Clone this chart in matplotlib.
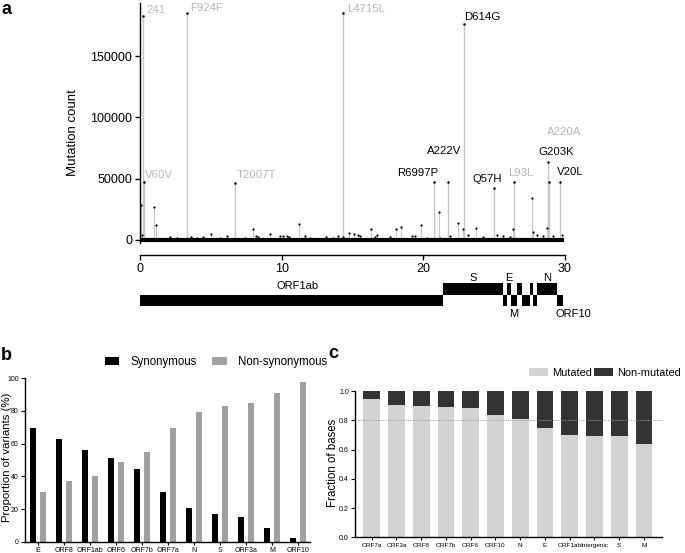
import matplotlib
matplotlib.use('Agg')
import matplotlib.pyplot as plt
import numpy as np

plt.rcParams['font.family'] = ['Liberation Sans', 'DejaVu Sans']

# ---------------- data: panel a ----------------
peak_pos_kb = [0.24, 0.28, 3.32, 6.70, 14.35, 20.75, 21.72, 22.85, 24.99, 26.40, 28.80, 28.87, 29.67]
peak_counts = [183000, 47500, 185500, 46700, 185500, 47500, 47000, 176000, 42000, 47500, 63400, 47000, 47000]
peak_labels = ['241', 'V60V', 'F924F', 'T2007T', 'L4715L', 'R6997P', 'A222V', 'D614G',
               'Q57H', 'L93L', 'G203K', 'A220A', 'V20L']
peak_is_silent = [True, True, True, True, True, False, False, False, False, True, False, True, False]

minor_pos_kb = [0.05, 0.12, 0.99, 1.10, 2.10, 2.60, 3.58, 4.00, 4.42, 5.00, 5.65, 6.12, 7.40,
                8.00, 8.19, 8.35, 9.18, 9.88, 10.10, 10.35, 10.50, 11.25, 11.65, 12.00, 13.10,
                13.65, 14.00, 14.30, 14.75, 15.10, 15.40, 15.53, 16.30, 16.60, 16.70, 17.65,
                18.07, 18.40, 19.18, 19.40, 19.80, 20.24, 21.10, 21.18, 21.90, 22.47, 22.82,
                23.17, 23.70, 24.23, 25.18, 25.60, 26.10, 26.33, 27.70, 27.72, 28.00, 28.47,
                28.75, 29.17, 29.77]
minor_counts = [28500, 4000, 27000, 12200, 2200, 1900, 2200, 1900, 2200, 4600, 1900, 3300, 1600,
                9000, 3300, 2700, 4600, 3500, 3300, 3300, 2700, 12800, 3300, 1900, 2200,
                1600, 3300, 2700, 5500, 4600, 4000, 3500, 9000, 2700, 4000, 2200,
                9000, 10800, 3500, 3300, 12200, 1900, 22600, 1900, 3300, 13600, 8700,
                4000, 10000, 2700, 4000, 3300, 2700, 8700, 34000, 6300, 4000, 3300,
                10000, 3500, 4000]
genome_start_kb = 0.0
genome_end_kb = 29.9
a_yticks = [0, 50000, 100000, 150000]
a_xticks = [0, 10, 20, 30]

gene_names = ['ORF1ab', 'S', 'ORF3a', 'E', 'M', 'ORF6', 'ORF7a', 'ORF7b', 'ORF8', 'N', 'ORF10']
gene_start = [0.0, 21.40, 25.60, 25.88, 26.17, 26.64, 26.94, 27.53, 27.76, 28.04, 29.41]
gene_end = [21.40, 25.60, 25.88, 26.17, 26.64, 26.94, 27.53, 27.76, 28.04, 29.41, 29.88]
gene_row = ['lower', 'upper', 'lower', 'upper', 'lower', 'upper', 'lower', 'upper', 'lower', 'upper', 'lower']
gene_shown_labels = ['ORF1ab', 'S', 'E', 'N', 'M', 'ORF10']

# ---------------- data: panel b ----------------
b_genes = ['E', 'ORF8', 'ORF1ab', 'ORF6', 'ORF7b', 'ORF7a', 'N', 'S', 'ORF3a', 'M', 'ORF10']
b_synonymous = [69.4, 62.8, 56.1, 51.0, 44.7, 30.4, 20.4, 16.8, 15.1, 8.6, 2.3]
b_nonsynonymous = [30.4, 36.9, 40.2, 48.8, 55.1, 69.4, 79.4, 83.0, 84.7, 91.2, 97.6]
b_yticks = [0, 20, 40, 60, 80, 100]

# ---------------- data: panel c ----------------
c_regions = ['ORF7a', 'ORF3a', 'ORF8', 'ORF7b', 'ORF6', 'ORF10', 'N', 'E', 'ORF1ab',
             'Intergenic', 'S', 'M']
c_mutated = [0.943, 0.902, 0.895, 0.893, 0.886, 0.839, 0.807, 0.750, 0.700, 0.693, 0.693, 0.641]
c_nonmutated = [1 - v for v in c_mutated]
c_threshold = 0.8
c_yticks = [0.0, 0.2, 0.4, 0.6, 0.8, 1.0]

W, H = 685, 553
fig = plt.figure(figsize=(W / 100, H / 100), dpi=100)


def rect(l, t, r, b):
    return [l / W, 1 - b / H, (r - l) / W, (b - t) / H]


STEM = '#c6c6c6'
SILENT = '#b8b8b8'

# ================= panel a =================
ax = fig.add_axes(rect(140, 3.4, 565, 243))
ax.set_xlim(0, 30)
ax.set_ylim(-2500, 193000)
ax.hlines(0, genome_start_kb, genome_end_kb, color='black', lw=3.0, zorder=2)
ax.vlines(minor_pos_kb, 0, minor_counts, color=STEM, lw=0.8, zorder=1)
ax.plot(minor_pos_kb, minor_counts, 'o', ms=1.6, color='black', zorder=3, mec='none')
ax.vlines(peak_pos_kb, 0, peak_counts, color=STEM, lw=1.0, zorder=1)
ax.plot(peak_pos_kb, peak_counts, 'o', ms=1.8, color='black', zorder=3, mec='none')

label_offsets = [(3, 6, 'left'), (1, 7, 'left'), (3, 5, 'left'), (2, 8, 'left'),
                 (4, 4, 'left'), (4, 9, 'right'), (-4, 31, 'center'), (0, 7, 'left'),
                 (-7, 9, 'center'), (7, 9, 'center'), (8.5, 10, 'center'),
                 (15, 50, 'center'), (10, 10, 'center')]
for x, y, lab, silent, (dx, dy, ha) in zip(peak_pos_kb, peak_counts, peak_labels,
                                            peak_is_silent, label_offsets):
    ax.annotate(lab, (x, y), xytext=(dx, dy), textcoords='offset pixels',
                ha=ha, va='center', fontsize=8.2,
                color=SILENT if silent else 'black')

for s in ['top', 'right']:
    ax.spines[s].set_visible(False)
ax.spines['left'].set_linewidth(1.0)
ax.spines['bottom'].set_position(('outward', 8.6))
ax.spines['bottom'].set_linewidth(1.0)
ax.set_xticks(a_xticks)
ax.set_xticklabels([str(t) for t in a_xticks], fontsize=9)
ax.set_yticks(a_yticks)
ax.set_yticklabels([str(t) for t in a_yticks], fontsize=9)
ax.tick_params(axis='both', length=3.5, width=1.0, pad=2)
ax.set_ylabel('Mutation count', fontsize=9.5)
ax.yaxis.set_label_coords(-0.1435, 0.461)

# gene map
gx = fig.add_axes(rect(140, 270, 565, 330))
gx.set_xlim(0, 30)
gx.set_ylim(60, 0)
gx.axis('off')
row_center = {'upper': 19.2, 'lower': 30.5}
row_height = {'upper': 11.7, 'lower': 11.0}
for name, s, e, r in zip(gene_names, gene_start, gene_end, gene_row):
    gx.barh(row_center[r], e - s, left=s, height=row_height[r], color='black',
            edgecolor='none')
for name, s, e, r in zip(gene_names, gene_start, gene_end, gene_row):
    if name not in gene_shown_labels:
        continue
    mid = (s + e) / 2
    if name == 'ORF1ab':
        gx.text(mid + 0.45, 16, name, ha='center', va='center', fontsize=8)
    elif r == 'upper':
        gx.text(mid, 8, name, ha='center', va='center', fontsize=8)
    elif name == 'ORF10':
        gx.text(s - 0.05, 44, name, ha='left', va='center', fontsize=8)
    else:
        gx.text(mid, 44, name, ha='center', va='center', fontsize=8)

# ================= panel b =================
bx = fig.add_axes(rect(25, 378.3, 310, 541.7))
xb = np.arange(len(b_genes))
bw = 0.26
bx.bar(xb - 0.19, b_synonymous, width=bw, color='black', label='Synonymous')
bx.bar(xb + 0.19, b_nonsynonymous, width=bw, color='#a0a0a0', label='Non-synonymous')
bx.set_xlim(-0.5, 10.46)
bx.set_ylim(0, 100)
for s in ['top', 'right']:
    bx.spines[s].set_visible(False)
for s in ['left', 'bottom']:
    bx.spines[s].set_linewidth(1.0)
bx.set_xticks(xb)
bx.set_xticklabels(b_genes, fontsize=5)
bx.set_yticks(b_yticks)
bx.set_yticklabels([str(t) for t in b_yticks], fontsize=5)
bx.tick_params(axis='x', length=2, width=0.8, pad=2)
bx.tick_params(axis='y', length=3, width=0.8, pad=1.5)
bx.set_ylabel('Proportion of variants (%)', fontsize=8.2)
bx.yaxis.set_label_coords(-0.047, 0.515)
bx.legend(loc='center left', bbox_to_anchor=(105 / W, 1 - 362 / H),
          bbox_transform=fig.transFigure, ncol=2, frameon=False, fontsize=8.3,
          handlelength=1.25, handleheight=0.65, handletextpad=1.0,
          columnspacing=1.3, borderpad=0, borderaxespad=0)

# ================= panel c =================
cx = fig.add_axes(rect(355, 391, 662, 537.3))
xc = np.arange(len(c_regions))
cw = 0.675
cx.bar(xc, c_mutated, width=cw, color='#d3d3d3', label='Mutated')
cx.bar(xc, c_nonmutated, width=cw, bottom=c_mutated, color='#333333', label='Non-mutated')
cx.axhline(c_threshold, color='#9a9a9a', lw=0.6, ls=(0, (1.5, 1.5)), zorder=3)
cx.set_xlim(-0.675, 11.73)
cx.set_ylim(0, 1.0)
for s in ['top', 'right']:
    cx.spines[s].set_visible(False)
for s in ['left', 'bottom']:
    cx.spines[s].set_linewidth(1.0)
cx.set_xticks(xc)
cx.set_xticklabels(c_regions, fontsize=4.6)
cx.set_yticks(c_yticks)
cx.set_yticklabels([f'{t:.1f}' for t in c_yticks], fontsize=5)
cx.tick_params(axis='x', length=2, width=0.8, pad=2)
cx.tick_params(axis='y', length=3, width=0.8, pad=1.5)
cx.set_ylabel('Fraction of bases', fontsize=8.3)
cx.yaxis.set_label_coords(-0.052, 0.508)
cx.legend(loc='center left', bbox_to_anchor=(529 / W, 1 - 373 / H),
          bbox_transform=fig.transFigure, ncol=2, frameon=False, fontsize=7.9,
          handlelength=1.7, handleheight=0.8, handletextpad=0.42,
          columnspacing=0.2, borderpad=0, borderaxespad=0)

# panel letters
fig.text(7 / W, 1 - 10 / H, 'a', fontsize=13, fontweight='bold', ha='center', va='center')
fig.text(6 / W, 1 - 355 / H, 'b', fontsize=13, fontweight='bold', ha='center', va='center')
fig.text(333 / W, 1 - 353 / H, 'c', fontsize=13, fontweight='bold', ha='center', va='center')

fig.savefig('out.png', dpi=100)
